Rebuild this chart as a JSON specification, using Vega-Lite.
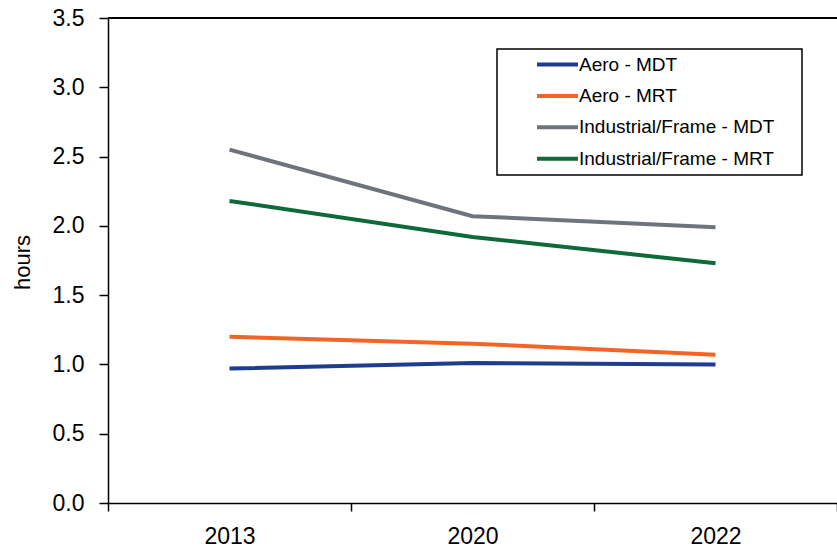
{
  "$schema": "https://vega.github.io/schema/vega-lite/v6.json",
  "width": 729,
  "height": 485,
  "autosize": {"type": "none"},
  "padding": {"left": 108, "top": 18, "right": 0, "bottom": 48},
  "background": "white",
  "config": {
    "view": {"stroke": null},
    "font": "Liberation Sans",
    "axis": {
      "domainColor": "black",
      "domainWidth": 1.5,
      "tickColor": "black",
      "tickWidth": 1.5,
      "labelColor": "black",
      "labelFont": "Liberation Sans",
      "labelFontSize": 23,
      "titleFont": "Liberation Sans",
      "titleFontSize": 22,
      "titleFontWeight": "normal",
      "titleColor": "black",
      "grid": false
    },
    "legend": {
      "labelFont": "Liberation Sans",
      "labelFontSize": 19,
      "labelColor": "black",
      "labelLimit": 0
    }
  },
  "data": {
    "values": [
      {"series": "Aero - MDT", "year": "2013", "hours": 0.97},
      {"series": "Aero - MDT", "year": "2020", "hours": 1.01},
      {"series": "Aero - MDT", "year": "2022", "hours": 1.0},
      {"series": "Aero - MRT", "year": "2013", "hours": 1.2},
      {"series": "Aero - MRT", "year": "2020", "hours": 1.15},
      {"series": "Aero - MRT", "year": "2022", "hours": 1.07},
      {"series": "Industrial/Frame - MDT", "year": "2013", "hours": 2.55},
      {"series": "Industrial/Frame - MDT", "year": "2020", "hours": 2.07},
      {"series": "Industrial/Frame - MDT", "year": "2022", "hours": 1.99},
      {"series": "Industrial/Frame - MRT", "year": "2013", "hours": 2.18},
      {"series": "Industrial/Frame - MRT", "year": "2020", "hours": 1.92},
      {"series": "Industrial/Frame - MRT", "year": "2022", "hours": 1.73}
    ]
  },
  "layer": [
    {
      "mark": {"type": "rule", "color": "black", "strokeWidth": 1.5},
      "encoding": {"y": {"datum": 3.5, "type": "quantitative"}}
    },
    {
      "mark": {"type": "line", "strokeWidth": 4, "strokeCap": "butt"},
      "encoding": {
        "x": {
          "field": "year",
          "type": "ordinal",
          "bandPosition": 0.5,
          "scale": {"type": "band", "paddingInner": 0, "paddingOuter": 0},
          "axis": {
            "title": null,
            "labelAngle": 0,
            "tickBand": "extent",
            "tickSize": 8,
            "labelPadding": 14
          }
        },
        "y": {
          "field": "hours",
          "type": "quantitative",
          "scale": {"domain": [0, 3.5], "nice": false, "zero": true},
          "axis": {
            "title": "hours",
            "values": [0, 0.5, 1, 1.5, 2, 2.5, 3, 3.5],
            "format": ".1f",
            "tickSize": 9,
            "labelPadding": 15,
            "titleX": -86,
            "titleY": 244,
            "titleAngle": -90,
            "titleAlign": "center",
            "titleBaseline": "middle"
          }
        },
        "color": {
          "field": "series",
          "type": "nominal",
          "scale": {
            "domain": ["Aero - MDT", "Aero - MRT", "Industrial/Frame - MDT", "Industrial/Frame - MRT"],
            "range": ["#1f3c8e", "#f26526", "#6f747c", "#0e6a39"]
          },
          "legend": {
            "title": null,
            "orient": "none",
            "legendX": 389,
            "legendY": 31,
            "strokeColor": "black",
            "fillColor": "white",
            "padding": 6,
            "rowPadding": 11.4,
            "symbolType": "M-4.1,0H4.1M46,0L46,0",
            "symbolSize": 100,
            "symbolStrokeWidth": 4,
            "symbolOffset": 45,
            "labelOffset": 12,
            "encode": {"legend": {"update": {"strokeWidth": {"value": 1.5}}}}
          }
        }
      }
    }
  ]
}
